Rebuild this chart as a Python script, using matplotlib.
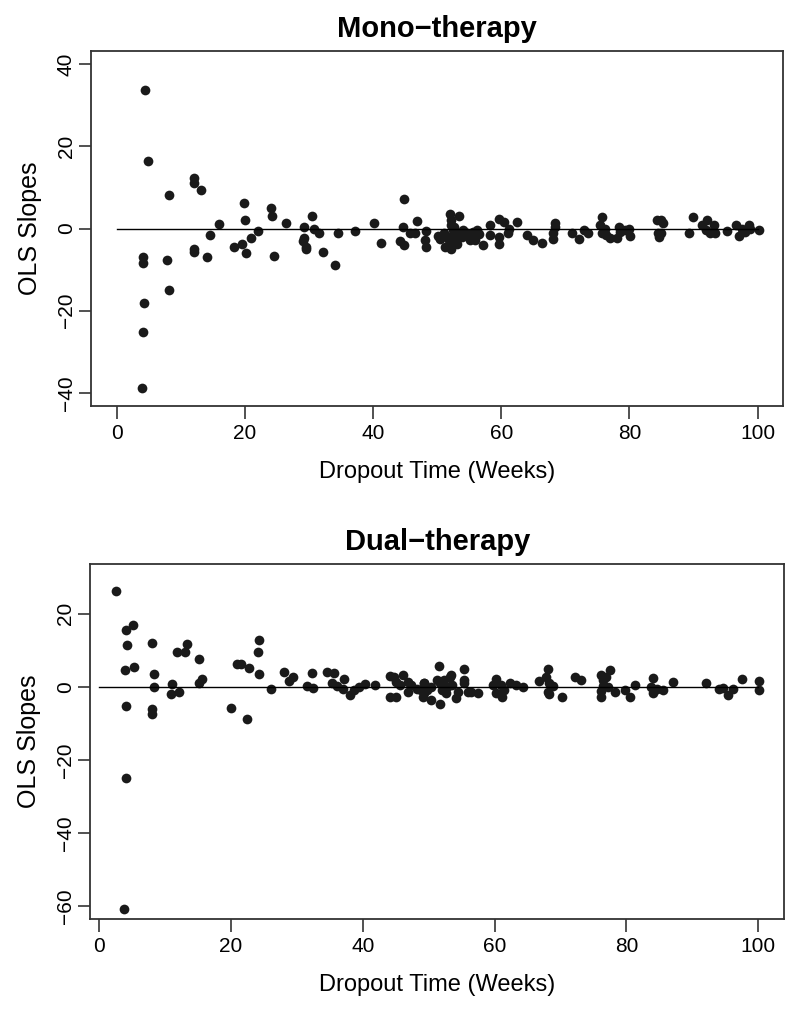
import matplotlib
matplotlib.use('Agg')
import matplotlib.pyplot as plt
import numpy as np

# ------------------------------------------------------------
# Datos (semanas de abandono, pendientes OLS)
# ------------------------------------------------------------
mono_x = [4.4, 4.8, 8.1, 12.0, 12.0, 13.2, 16.0, 14.5, 12.1, 12.1, 14.0, 4.1, 4.1,
          7.9, 8.1, 4.2, 4.1, 4.0, 19.8, 20.0, 22.0, 20.9, 19.5, 18.3, 20.2, 24.1,
          24.2, 24.5, 26.4, 29.2, 30.4, 30.7, 31.5, 29.2, 29.1, 29.6, 29.6, 32.2,
          34.0, 34.5, 37.2, 40.1, 41.3, 44.8, 44.6, 44.2, 44.8, 45.7, 46.5, 46.9,
          48.3, 48.1, 48.3, 50.2, 50.4,
          50.5, 51.1, 51.5, 52.0, 52.1, 52.2, 52.5, 52.7, 53.0, 53.4, 53.2, 51.2,
          52.1, 52.5, 53.1, 53.8, 54.1, 51.8, 52.4, 55.1, 55.6, 56.2, 56.6, 55.9,
          57.2, 54.6,
          58.3, 58.2, 59.7, 60.4, 61.2, 61.0, 59.6, 59.6, 62.4, 64.0, 65.0, 66.3,
          68.4, 68.4, 68.1, 68.1, 71.0, 72.2, 72.9, 73.6, 75.7, 75.4, 76.2, 75.7,
          76.4, 76.9, 78.0, 78.4, 78.5, 79.3, 80.0, 80.1, 84.3, 85.0, 85.2, 84.4,
          84.6, 85.0, 89.3, 90.0, 91.3, 92.1, 91.9, 92.6, 93.2, 93.4, 95.2, 96.7,
          97.1, 97.5, 98.0, 98.6, 98.8, 100.2]
mono_y = [33.6, 16.5, 8.1, 12.4, 11.1, 9.3, 1.1, -1.5, -5.1, -5.6, -7.0, -6.9, -8.4,
          -7.6, -14.9, -18.1, -25.3, -38.9, 6.1, 2.0, -0.5, -2.2, -3.8, -4.6, -5.9, 5.0,
          3.0, -6.7, 1.3, 0.3, 3.1, -0.2, -1.2, -2.3, -3.1, -4.6, -5.1, -5.8,
          -8.9, -1.0, -0.6, 1.3, -3.5, 7.2, 0.4, -3.1, -4.1, -1.1, -1.1, 1.8,
          -0.7, -2.8, -4.5, -1.7, -2.5,
          -2.4, -1.2, -2.0, 3.5, 2.0, 0.8, -0.4, 0.4, -0.8, 3.0, -2.4, -4.5,
          -4.9, -3.3, -3.8, -2.0, -0.4, -2.8, -1.6, -2.8, -0.8, -0.4, -1.4, -2.8,
          -4.1, -1.2,
          0.8, -1.5, 2.2, 1.6, 0.0, -1.1, -2.0, -3.7, 1.5, -1.6, -2.8, -3.5,
          1.4, 0.4, -1.2, -2.6, -1.2, -2.6, -0.4, -1.0, 2.8, 0.8, 0.0, -1.2,
          -1.6, -2.4, -2.3, 0.4, -0.9, -0.4, -0.2, -1.8, 2.0, 2.1, 1.4, -1.2,
          -2.1, -1.2, -1.0, 2.8, 0.8, 2.0, -0.4, -1.2, 0.8, -1.2, -0.7, 0.8,
          -1.7, 0.0, -0.8, 0.8, 0.0, -0.4]

dual_x = [2.6, 4.1, 5.1, 4.2, 3.9, 5.3, 4.1, 4.1, 3.8, 8.1, 8.4, 8.4, 8.1, 8.1,
          11.1, 10.9, 12.1, 11.9, 13.1, 13.4, 15.1, 15.2, 15.7, 20.1, 22.4, 21.0,
          21.6, 22.8, 24.2, 24.1, 24.3, 26.1, 28.1, 28.8, 29.5, 31.6, 32.4, 32.3,
          34.6, 35.6, 35.4, 36.1, 37.1, 37.0, 38.1, 38.7, 39.4, 40.3, 41.8, 44.2,
          44.8, 44.2, 45.1, 46.1, 45.0, 45.7, 46.8, 46.9, 47.4, 48.3, 48.8, 49.1,
          49.3, 49.8,
          49.3, 49.3, 50.3, 50.3, 51.6, 51.8, 51.3, 51.8, 52.3, 52.0, 52.6, 52.8,
          53.3, 53.4, 53.6, 54.1, 54.4, 55.4, 55.4, 55.4, 55.9, 56.4, 57.5,
          60.2, 59.7, 60.2, 61.0, 61.2, 61.5, 62.3, 63.3, 64.3,
          66.8, 68.1, 67.8, 68.3, 68.8, 68.1, 68.3, 70.2, 72.2, 73.1,
          76.2, 76.4, 76.5, 76.2, 76.2, 77.5, 76.9, 77.2, 78.2, 79.8, 80.5, 81.3,
          84.1, 83.8, 84.0, 84.2, 84.7, 85.5, 87.0, 92.0, 94.1, 94.6, 95.4, 96.2,
          97.6, 100.1, 100.1]
dual_y = [26.3, 15.5, 16.9, 11.4, 4.7, 5.5, -5.2, -25.0, -60.9, 12.1, 3.6, -0.2, -6.1,
          -7.6, 0.8, -2.1, -1.4, 9.4, 9.4, 11.7, 7.6, 1.1, 2.1, -5.8, -8.9, 6.2,
          6.1, 5.0, 12.8, 9.4, 3.4, -0.7, 4.0, 1.5, 2.6, 0.3, -0.3, 3.7,
          4.1, 3.8, 0.9, 0.3, 2.1, -0.6, -2.3, -0.9, 0.0, 0.7, 0.5, 2.9,
          2.7, -2.8, -2.8, 3.2, 1.4, 0.5, 1.4, -1.4, 0.5, -0.5, -0.9, -2.7,
          1.1, -0.9,
          0.9, -1.8, 0.0, -3.7, 5.8, -4.6, 1.8, 0.9, 1.8, -0.9, -1.8, 0.0,
          2.7, 3.2, 0.5, -3.2, -1.4, 4.8, 1.8, 0.9, -1.4, -1.4, -1.6,
          2.0, 0.5, -1.8, 0.5, -2.7, -0.9, 0.9, 0.5, 0.0,
          1.6, 4.8, 2.6, 0.9, 0.3, -1.4, -2.0, -2.7, 2.7, 1.8,
          3.2, 1.8, 0.3, -1.1, -2.7, 4.6, 2.7, 0.0, -1.4, -0.9, -2.7, 0.6,
          2.3, 0.0, -1.8, -0.9, -0.5, -0.9, 1.2, 0.9, -0.5, -0.4, -2.3, -0.7,
          2.1, 1.6, -0.9]

# ------------------------------------------------------------
# Configuracion general
# ------------------------------------------------------------
plt.rcParams['font.family'] = ['Liberation Sans', 'DejaVu Sans']
COLOR_EJE = '#333333'
COLOR_PUNTO = '#1a1a1a'

fig = plt.figure(figsize=(8, 10.17), dpi=100)


def panel(pos, x, y, titulo, xlim, ylim, yticks):
    ax = fig.add_axes(pos)
    ax.plot(x, y, 'o', color=COLOR_PUNTO, markersize=7.0, markeredgewidth=0)
    ax.plot([0, 100], [0, 0], color='black', linewidth=1.0)
    ax.set_xlim(xlim)
    ax.set_ylim(ylim)
    ax.set_xticks([0, 20, 40, 60, 80, 100])
    ax.set_yticks(yticks)
    ax.tick_params(direction='out', length=9, width=1.2, color=COLOR_EJE,
                   labelsize=15)
    ax.tick_params(axis='x', pad=4)
    ax.tick_params(axis='y', pad=2)
    for lbl in ax.get_yticklabels():
        lbl.set_rotation(90)
        lbl.set_va('center')
    for s in ax.spines.values():
        s.set_color(COLOR_EJE)
        s.set_linewidth(1.3)
    ax.set_xlabel('Dropout Time (Weeks)', fontsize=17, labelpad=13)
    ax.set_ylabel('OLS Slopes', fontsize=18, labelpad=11)
    ax.set_title(titulo, fontsize=21, fontweight='bold', pad=10)
    return ax


panel([0.114, 0.6008, 0.865, 0.349], mono_x, mono_y, 'Mono\u2212therapy',
      (-4, 104), (-43.2, 43.2), [-40, -20, 0, 20, 40])
panel([0.113, 0.0964, 0.867, 0.349], dual_x, dual_y, 'Dual\u2212therapy',
      (-1.3, 103.9), (-63.6, 33.6), [-60, -40, -20, 0, 20])

plt.savefig('out.png', dpi=100)
plt.close()
